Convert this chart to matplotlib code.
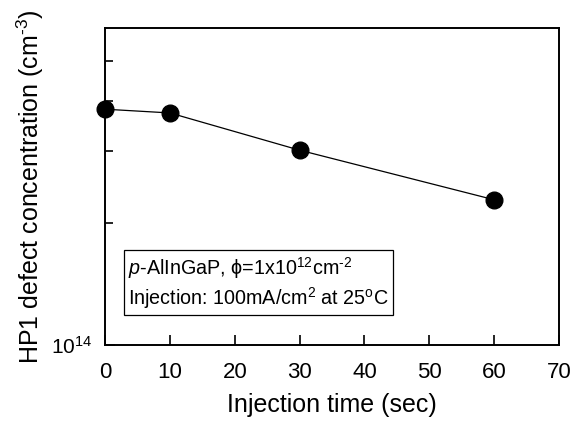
#!/usr/bin/env python3

import matplotlib
import matplotlib.pyplot as plt
from matplotlib.ticker import FixedLocator, NullFormatter

matplotlib.use("Agg")

plt.rcParams['font.family'] = ['Liberation Sans', 'DejaVu Sans']
plt.rcParams['mathtext.fontset'] = 'custom'
plt.rcParams['mathtext.rm'] = 'Liberation Sans'
plt.rcParams['mathtext.it'] = 'Liberation Sans:italic'
plt.rcParams['mathtext.default'] = 'regular'

time_sec = [0, 10, 30, 60]
hp1_conc = [3.81e14, 3.73e14, 3.02e14, 2.28e14]
x_ticks = [0, 10, 20, 30, 40, 50, 60, 70]
y_minor = [2e14, 3e14, 4e14, 5e14]

fig = plt.figure(figsize=(5.74, 4.23), dpi=100)
ax = fig.add_axes([0.183, 0.184, 0.791, 0.750])

ax.plot(time_sec, hp1_conc, color='black', lw=0.9, marker='o',
        markersize=12, markerfacecolor='black', markeredgecolor='black',
        clip_on=False, zorder=3)

ax.set_yscale('log')
ax.set_xlim(0, 70)
ax.set_ylim(1e14, 6.04e14)
ax.set_xticks(x_ticks)
ax.yaxis.set_major_locator(FixedLocator([1e14]))
ax.set_yticklabels(['$10^{14}$'])
ax.yaxis.set_minor_locator(FixedLocator(y_minor))
ax.yaxis.set_minor_formatter(NullFormatter())

ax.tick_params(axis='both', which='major', direction='in', length=7,
               width=1.2)
ax.tick_params(axis='x', which='major', pad=12, labelsize=16)
ax.tick_params(axis='y', which='major', pad=9, labelsize=15)
ax.tick_params(axis='y', which='minor', direction='in', length=6, width=1.2)
for s in ax.spines.values():
    s.set_linewidth(1.4)

ax.set_xlabel('Injection time (sec)', fontsize=18, labelpad=7)
ax.set_ylabel('HP1 defect concentration (cm$^{\\text{-3}}$)', fontsize=18,
              labelpad=4)

ax.text(0.051, 0.197,
        '$\\it{p}$-AlInGaP, ϕ=1x10$^{12}$cm$^{\\text{-2}}$\n'
        'Injection: 100mA/cm$^{2}$ at 25$^{o}$C',
        transform=ax.transAxes, fontsize=14.2, va='center', ha='left',
        linespacing=1.2,
        bbox=dict(boxstyle='square,pad=0.22', facecolor='white',
                  edgecolor='black', linewidth=0.9))

fig.savefig('out.png', dpi=100)
